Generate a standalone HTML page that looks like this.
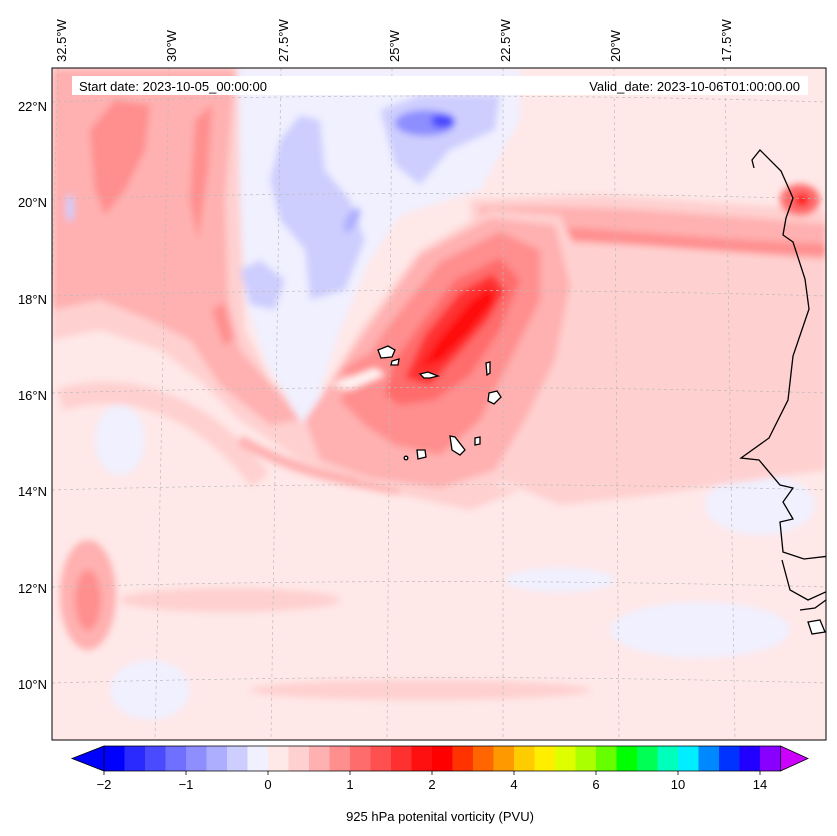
<!DOCTYPE html>
<html><head><meta charset="utf-8"><style>
html,body{margin:0;padding:0;background:#fff;}
svg{display:block;font-family:"Liberation Sans","DejaVu Sans",sans-serif;}
</style></head><body>
<svg id="fig" width="837" height="836" viewBox="0 0 837 836">
<defs>
<clipPath id="mapclip"><rect x="52" y="68" width="774" height="672"/></clipPath>
<filter id="bl" x="-20%" y="-20%" width="140%" height="140%"><feGaussianBlur stdDeviation="3.5"/></filter>
</defs>
<g clip-path="url(#mapclip)">
<rect x="52" y="68" width="774" height="672" fill="#ffe8e8"/>
<g filter="url(#bl)">
 <path d="M52,68 L250,68 L240,200 L245,330 L270,380 L330,430 L420,470 L520,490 L470,510 L380,490 L300,460 L240,420 L200,380 L160,350 L100,330 L52,340 Z" fill="#ffd0d0"/>
 <path d="M52,68 L235,68 L225,200 L228,300 L240,350 L280,395 L300,420 L270,425 L220,385 L190,340 L150,320 L100,300 L52,310 Z" fill="#ffb0b0"/>
 <path d="M90,130 L115,100 L150,105 L145,150 L125,190 L105,215 L95,190 Z" fill="#ff8e8e"/>
 <path d="M195,120 L212,105 L208,170 L198,240 L190,200 Z" fill="#ff8e8e"/>
 <path d="M212,310 L224,302 L233,338 L224,346 Z" fill="#ff8e8e"/>
 <path d="M60,400 C120,380 200,400 260,480" stroke="#ffd0d0" stroke-width="22" fill="none"/>
 <path d="M240,440 C290,470 340,480 400,490" stroke="#ffb0b0" stroke-width="10" fill="none"/>
 <path d="M238,68 L520,68 L520,120 L480,190 L400,215 L370,260 L340,330 L320,390 L330,440 L300,420 L265,360 L245,300 L240,200 Z" fill="#f0f0ff"/>
 <path d="M280,140 L300,115 L320,120 L325,170 L350,200 L365,240 L345,290 L310,300 L305,250 L280,220 L270,180 Z" fill="#cecefe"/>
 <path d="M240,270 L260,260 L285,280 L275,310 L250,305 Z" fill="#cecefe"/>
 <path d="M380,110 L420,95 L470,95 L500,95 L495,130 L450,150 L420,185 L395,165 Z" fill="#cecefe"/>
 <ellipse cx="425" cy="123" rx="30" ry="13" fill="#8e8eff"/>
 <ellipse cx="443" cy="121" rx="12" ry="7" fill="#4a4aff"/>
 <ellipse cx="352" cy="220" rx="6" ry="14" transform="rotate(30 352 220)" fill="#aeaeff"/>
 <ellipse cx="120" cy="440" rx="25" ry="35" fill="#f0f0ff"/>
 <ellipse cx="150" cy="690" rx="40" ry="30" fill="#f0f0ff"/>
 <ellipse cx="760" cy="505" rx="55" ry="30" fill="#f0f0ff"/>
 <ellipse cx="700" cy="630" rx="90" ry="28" fill="#f0f0ff"/>
 <ellipse cx="560" cy="580" rx="55" ry="12" fill="#f0f0ff"/>
 <path d="M470,200 L600,195 L826,210 L826,470 L650,495 L560,505 L500,480 Z" fill="#ffd0d0"/>
 <path d="M480,225 C600,222 700,232 826,242" stroke="#ffb0b0" stroke-width="36" fill="none"/>
 <path d="M540,232 C620,236 700,245 826,250" stroke="#ff8e8e" stroke-width="12" fill="none"/>
 <path d="M300,440 L320,400 L360,330 L420,250 L490,210 L560,215 L590,280 L570,360 L540,420 L510,480 L440,500 L360,480 Z" fill="#ffd0d0"/>
 <path d="M320,460 L305,420 L360,340 L420,255 L490,218 L555,225 L570,285 L555,360 L525,420 L495,470 L440,488 L370,478 Z" fill="#ffb0b0"/>
 <path d="M365,425 L340,400 L385,330 L440,262 L500,232 L540,250 L540,300 L510,360 L480,420 L440,455 L395,445 Z" fill="#ff8e8e"/>
 <path d="M385,395 L395,360 L420,325 L455,280 L500,258 L520,280 L500,330 L470,375 L435,400 L400,405 Z" fill="#ff6c6c"/>
 <path d="M405,378 L425,335 L460,292 L492,274 L505,290 L488,320 L460,352 L430,385 Z" fill="#ff3030"/>
 <path d="M420,368 L440,338 L470,302 L490,287 L495,300 L470,332 L442,360 Z" fill="#ff1010"/>
 <path d="M340,372 L365,355 L385,355 L385,370 L355,378 Z" fill="#ff8e8e"/>
 <path d="M330,385 L375,368 L385,375 L350,390 Z" fill="#fff4f4"/>
 <ellipse cx="800" cy="200" rx="20" ry="16" fill="#ff6c6c"/>
 <ellipse cx="802" cy="200" rx="7" ry="6" fill="#ff1010"/>
 <ellipse cx="88" cy="595" rx="28" ry="55" fill="#ffb0b0"/>
 <ellipse cx="88" cy="600" rx="13" ry="30" fill="#ff8e8e"/>
 <ellipse cx="230" cy="600" rx="110" ry="12" fill="#ffd0d0"/>
 <ellipse cx="420" cy="690" rx="170" ry="10" fill="#ffd0d0"/>
 <ellipse cx="70" cy="208" rx="4" ry="14" fill="#cecefe"/>
</g>
<g stroke="#bbb" stroke-width="0.7" stroke-dasharray="3,3" fill="none">
 <path d="M52,102 Q440,90 826,102"/><path d="M52,199 Q440,188 826,199"/><path d="M52,296 Q440,285 826,296"/>
 <path d="M52,393 Q440,382 826,393"/><path d="M52,490 Q440,479 826,490"/><path d="M52,587 Q440,576 826,587"/><path d="M52,683 Q440,672 826,683"/>
 <line x1="58" y1="68" x2="40" y2="740"/><line x1="169" y1="68" x2="155" y2="740"/><line x1="281" y1="68" x2="271" y2="740"/>
 <line x1="392" y1="68" x2="387" y2="740"/><line x1="503" y1="68" x2="503" y2="740"/><line x1="614" y1="68" x2="619" y2="740"/><line x1="725" y1="68" x2="735" y2="740"/>
</g>
<g fill="#fff" stroke="#000" stroke-width="1.3">
 <path fill="none" d="M754,168 L752,160 L760,150 L781,171 L793,198 L786,218 L783,235 L793,242 L805,279 L809,309 L793,356 L788,400 L769,438 L741,458 L759,460 L780,485 L793,488 L783,502 L793,519 L780,522 L783,552 L804,559 L830,556"/>
 <path fill="none" d="M782,560 L790,590 L808,600 L830,590"/>
 <path fill="none" d="M800,610 L815,608 L826,600"/>
 <path d="M808,622 L820,620 L825,632 L812,634 Z"/>
 <path d="M378,350 L388,346 L395,350 L392,357 L381,358 Z"/>
 <path d="M392,361 L399,359 L398,365 L391,365 Z"/>
 <path d="M420,374 L428,372 L438,376 L430,378 L424,378 Z"/>
 <path d="M486,363 L490,362 L490,373 L487,375 Z"/>
 <path d="M489,393 L497,391 L501,397 L494,404 L488,401 Z"/>
 <path d="M450,436 L455,437 L465,450 L460,455 L452,450 Z"/>
 <path d="M475,438 L480,437 L480,444 L475,445 Z"/>
 <path d="M417,450 L425,450 L426,457 L418,459 Z"/>
 <circle cx="406" cy="458" r="1.8"/>
</g>
</g>
<rect x="52" y="68" width="774" height="672" fill="none" stroke="#000" stroke-width="1"/>
<rect x="72" y="76" width="736" height="19" fill="#fff"/>
<text x="79" y="91" font-size="13">Start date: 2023-10-05_00:00:00</text>
<text x="800" y="91" font-size="13" text-anchor="end">Valid_date: 2023-10-06T01:00:00.00</text>
<g id="latlabels" font-size="13" text-anchor="end"></g>
<g id="lonlabels" font-size="13"></g>
<g id="cbar"></g>
<text x="440" y="821" font-size="13" text-anchor="middle">925 hPa potenital vorticity (PVU)</text>
</svg>
<script>
const latLabels=["22°N","20°N","18°N","16°N","14°N","12°N","10°N"];
const latY=[106,202,299,395,491,588,684];
const lonLabels=["32.5°W","30°W","27.5°W","25°W","22.5°W","20°W","17.5°W"];
const lonX=[62,172,284,395,506,616,727];
const cbColors=["#0000ff","#2a2aff","#4a4aff","#7070ff","#8e8eff","#aeaeff","#cecefe","#f0f0ff","#ffe8e8","#ffd0d0","#ffb0b0","#ff8e8e","#ff6c6c","#ff5050","#ff3030","#ff1010","#ff0000","#ff3300","#ff6600","#ff9900","#ffcc00","#ffee00","#ddff00","#aaff00","#66ff00","#00ff00","#00ff55","#00ffbb","#00eeff","#0088ff","#0033ff","#2200ff","#8800ff"];
const cbTickLabels=["\u22122","\u22121","0","1","2","4","6","10","14"];
const cbTickIdx=[0,4,8,12,16,20,24,28,32];
const NS="http://www.w3.org/2000/svg";
function mk(t,a,p){const e=document.createElementNS(NS,t);for(const k in a)e.setAttribute(k,a[k]);p.appendChild(e);return e;}
const lat=document.getElementById('latlabels');
latLabels.forEach((l,i)=>{const t=mk('text',{x:47,y:latY[i]+5},lat);t.textContent=l;

});
const lon=document.getElementById('lonlabels');
lonLabels.forEach((l,i)=>{const t=mk('text',{x:0,y:0,transform:`translate(${lonX[i]+4},62) rotate(-90)`},lon);t.textContent=l;

});
const cb=document.getElementById('cbar');
const x0=104,seg=20.5,y0=746,h=25;
function sx(i){return x0+i*seg;}
cbColors.forEach((c,i)=>{const r=mk('rect',{x:sx(i),y:y0,width:seg+0.6,height:h,fill:c},cb);

});
const lt=mk('polygon',{points:`72,${y0+h/2} ${x0},${y0} ${x0},${y0+h}`,fill:"#0000ff",stroke:"#000","stroke-width":0.8},cb);


const xe=sx(cbColors.length);
const rt=mk('polygon',{points:`${xe},${y0} 808,${y0+h/2} ${xe},${y0+h}`,fill:"#cc00ff",stroke:"#000","stroke-width":0.8},cb);


mk('polyline',{points:`${x0},${y0} ${xe},${y0}`,stroke:"#000","stroke-width":0.8,fill:"none"},cb);
mk('polyline',{points:`${x0},${y0+h} ${xe},${y0+h}`,stroke:"#000","stroke-width":0.8,fill:"none"},cb);
cbTickLabels.forEach((l,i)=>{const x=sx(cbTickIdx[i]);
mk('line',{x1:x,y1:y0+h,x2:x,y2:y0+h+4,stroke:"#000","stroke-width":0.8},cb);
const t=mk('text',{x:x,y:y0+h+18,"font-size":13,"text-anchor":"middle"},cb);t.textContent=l;

});
</script>
</body></html>
